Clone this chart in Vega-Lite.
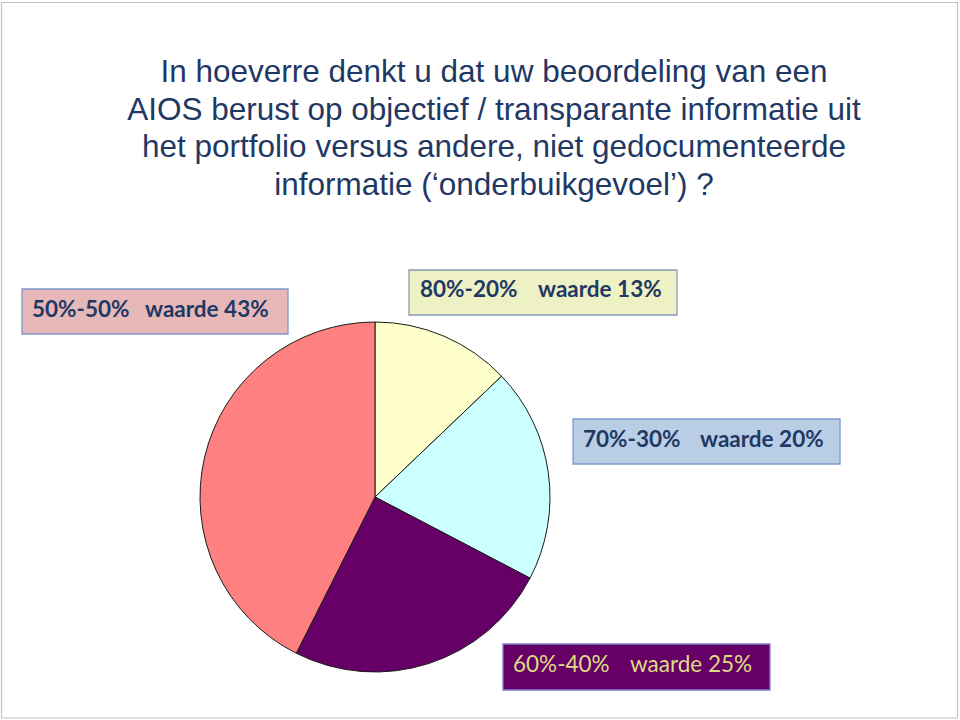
{
  "$schema": "https://vega.github.io/schema/vega-lite/v6.json",
  "width": 350,
  "height": 350,
  "autosize": {"type": "none"},
  "padding": {"left": 200, "top": 322, "right": 410, "bottom": 48},
  "background": "white",
  "config": {"view": {"stroke": null}},
  "title": {
    "text": ["In hoeverre denkt u dat uw beoordeling van een", "AIOS berust op objectief / transparante informatie uit", "het portfolio versus andere, niet gedocumenteerde", "informatie (‘onderbuikgevoel’) ?"],
    "font": "Liberation Sans",
    "fontSize": 31.5,
    "fontWeight": "normal",
    "color": "#1F3864",
    "lineHeight": 37.5,
    "anchor": "middle",
    "dx": 119,
    "offset": -201
  },
  "data": {
    "values": [
      {"cat": "80%-20%", "value": 13, "label": "waarde 13%"},
      {"cat": "70%-30%", "value": 20, "label": "waarde 20%"},
      {"cat": "60%-40%", "value": 25, "label": "waarde 25%"},
      {"cat": "50%-50%", "value": 43, "label": "waarde 43%"}
    ]
  },
  "layer": [
    {
      "transform": [{"filter": "datum.cat === '80%-20%'"}],
      "mark": {"type": "point", "shape": "M-0.3735,-0.4945H0.5825V0.221H-0.3735Z", "size": 4000000, "filled": false, "stroke": "#C4C4C4", "strokeWidth": 1.2, "opacity": 1},
      "encoding": {}
    },
    {
      "mark": {"type": "arc", "stroke": "#1a1a1a", "strokeWidth": 1, "outerRadius": 175},
      "encoding": {
        "theta": {"field": "value", "type": "quantitative", "stack": true},
        "order": {"field": "cat", "sort": "descending"},
        "color": {"field": "cat", "type": "nominal", "legend": null, "scale": {"domain": ["80%-20%", "70%-30%", "60%-40%", "50%-50%"], "range": ["#FFFFCC", "#CCFFFF", "#660066", "#FF8080"]}}
      }
    },
    {
      "transform": [{"filter": "datum.cat === '50%-50%'"}],
      "mark": {"type": "point", "shape": "M-0.706,-0.416H-0.174V-0.326H-0.706Z", "size": 1000000, "filled": true, "fill": "#E6B9B8", "stroke": "#7F97C6", "strokeWidth": 1.3, "opacity": 1},
      "encoding": {}
    },
    {
      "transform": [{"filter": "datum.cat === '80%-20%'"}],
      "mark": {"type": "point", "shape": "M0.068,-0.454H0.604V-0.364H0.068Z", "size": 1000000, "filled": true, "fill": "#EEF1C3", "stroke": "#8798B4", "strokeWidth": 1.3, "opacity": 1},
      "encoding": {}
    },
    {
      "transform": [{"filter": "datum.cat === '70%-30%'"}],
      "mark": {"type": "point", "shape": "M0.396,-0.156H0.93V-0.066H0.396Z", "size": 1000000, "filled": true, "fill": "#B9CDE5", "stroke": "#7C9BCF", "strokeWidth": 1.3, "opacity": 1},
      "encoding": {}
    },
    {
      "transform": [{"filter": "datum.cat === '60%-40%'"}],
      "mark": {"type": "point", "shape": "M0.256,0.294H0.79V0.386H0.256Z", "size": 1000000, "filled": true, "fill": "#660066", "stroke": "#8080C8", "strokeWidth": 1.3, "opacity": 1},
      "encoding": {}
    },
    {
      "transform": [{"filter": "datum.cat === '50%-50%'"}],
      "mark": {"type": "text", "align": "left", "baseline": "alphabetic", "dx": -343, "dy": -180, "font": "Lato", "fontSize": 22.5, "fontWeight": "bold", "color": "#1F3864"},
      "encoding": {"text": {"field": "cat"}}
    },
    {
      "transform": [{"filter": "datum.cat === '50%-50%'"}],
      "mark": {"type": "text", "align": "left", "baseline": "alphabetic", "dx": -230, "dy": -180, "font": "Lato", "fontSize": 22.5, "fontWeight": "bold", "color": "#1F3864"},
      "encoding": {"text": {"field": "label"}}
    },
    {
      "transform": [{"filter": "datum.cat === '80%-20%'"}],
      "mark": {"type": "text", "align": "left", "baseline": "alphabetic", "dx": 45, "dy": -200, "font": "Lato", "fontSize": 22.5, "fontWeight": "bold", "color": "#1F3864"},
      "encoding": {"text": {"field": "cat"}}
    },
    {
      "transform": [{"filter": "datum.cat === '80%-20%'"}],
      "mark": {"type": "text", "align": "left", "baseline": "alphabetic", "dx": 163, "dy": -200, "font": "Lato", "fontSize": 22.5, "fontWeight": "bold", "color": "#1F3864"},
      "encoding": {"text": {"field": "label"}}
    },
    {
      "transform": [{"filter": "datum.cat === '70%-30%'"}],
      "mark": {"type": "text", "align": "left", "baseline": "alphabetic", "dx": 208, "dy": -50.5, "font": "Lato", "fontSize": 22.5, "fontWeight": "bold", "color": "#1F3864"},
      "encoding": {"text": {"field": "cat"}}
    },
    {
      "transform": [{"filter": "datum.cat === '70%-30%'"}],
      "mark": {"type": "text", "align": "left", "baseline": "alphabetic", "dx": 325, "dy": -50.5, "font": "Lato", "fontSize": 22.5, "fontWeight": "bold", "color": "#1F3864"},
      "encoding": {"text": {"field": "label"}}
    },
    {
      "transform": [{"filter": "datum.cat === '60%-40%'"}],
      "mark": {"type": "text", "align": "left", "baseline": "alphabetic", "dx": 138, "dy": 175, "font": "Lato", "fontSize": 22.5, "fontWeight": "normal", "color": "#DCDC84"},
      "encoding": {"text": {"field": "cat"}}
    },
    {
      "transform": [{"filter": "datum.cat === '60%-40%'"}],
      "mark": {"type": "text", "align": "left", "baseline": "alphabetic", "dx": 255, "dy": 175, "font": "Lato", "fontSize": 22.5, "fontWeight": "normal", "color": "#DCDC84"},
      "encoding": {"text": {"field": "label"}}
    }
  ]
}
